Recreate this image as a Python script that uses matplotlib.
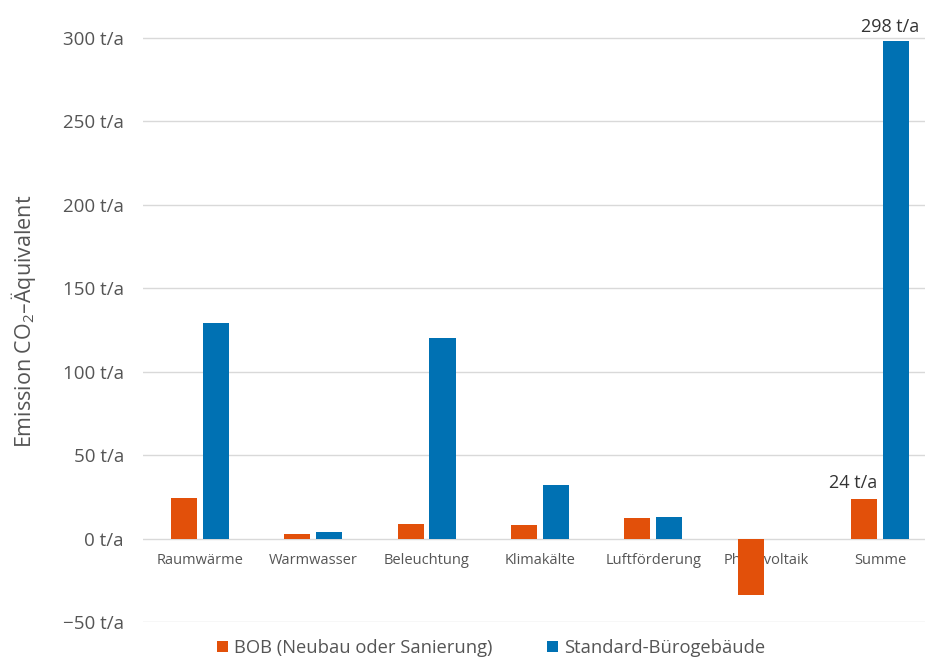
import matplotlib.pyplot as plt
import numpy as np

plt.rcParams['font.family'] = ['Open Sans', 'DejaVu Sans']

categories = ['Raumwärme', 'Warmwasser', 'Beleuchtung', 'Klimakälte',
              'Luftförderung', 'Photovoltaik', 'Summe']
bob = [24.5, 3, 8.5, 8, 12.6, -34, 24]
standard = [129, 4, 120, 32, 13, 0, 298]
series_names = ['BOB (Neubau oder Sanierung)', 'Standard-Bürogebäude']
yticks = [-50, 0, 50, 100, 150, 200, 250, 300]

orange = '#E2500A'
blue = '#0071B3'
grey = '#555555'

fig = plt.figure(figsize=(9.30, 6.59), dpi=100)
ax = fig.add_axes([0.154, 0.056, 0.841, 0.912])

x = np.arange(len(categories))
w = 0.23
b1 = ax.bar(x - 0.14, bob, w, color=orange, label=series_names[0], zorder=2)
b2 = ax.bar(x + 0.14, standard, w, color=blue, label=series_names[1], zorder=2)

# labels only on the total
ax.annotate(f'{bob[-1]:.0f} t/a', (x[-1] - 0.14, bob[-1]), xytext=(-8, 5),
            textcoords='offset points', ha='center', va='bottom',
            fontsize=13, color='#333333')
ax.annotate(f'{standard[-1]:.0f} t/a', (x[-1] + 0.14, standard[-1]), xytext=(-4, 4),
            textcoords='offset points', ha='center', va='bottom',
            fontsize=13, color='#333333', annotation_clip=False)

ax.set_xlim(-0.5, 6.4)
ax.set_ylim(-50, 310)
ax.set_yticks(yticks)
ax.set_yticklabels([f'{v} t/a'.replace('-', '\u2212') for v in yticks])
ax.set_xticks(x)
ax.set_xticklabels(categories)

ax.set_axisbelow(True)
ax.grid(axis='y', color='#d9d9d9', linewidth=1)
for s in ['top', 'right', 'left']:
    ax.spines[s].set_visible(False)
ax.spines['bottom'].set_position(('data', 0))
ax.spines['bottom'].set_visible(False)
ax.tick_params(axis='x', length=0, pad=10, labelsize=10.5, labelcolor=grey)
ax.tick_params(axis='y', length=0, pad=14, labelsize=13.5, labelcolor=grey)

ax.set_ylabel(r'Emission CO$_\mathregular{2}$–Äquivalent', fontsize=15.5,
              color=grey, labelpad=18)

fig.legend(handles=[b1, b2], loc='lower center', bbox_to_anchor=(0.528, -0.022),
           ncol=2, frameon=False, handlelength=0.6, handleheight=0.6,
           handletextpad=0.3, columnspacing=3, fontsize=13.2, labelcolor=grey)

fig.savefig('out.png', dpi=100)
